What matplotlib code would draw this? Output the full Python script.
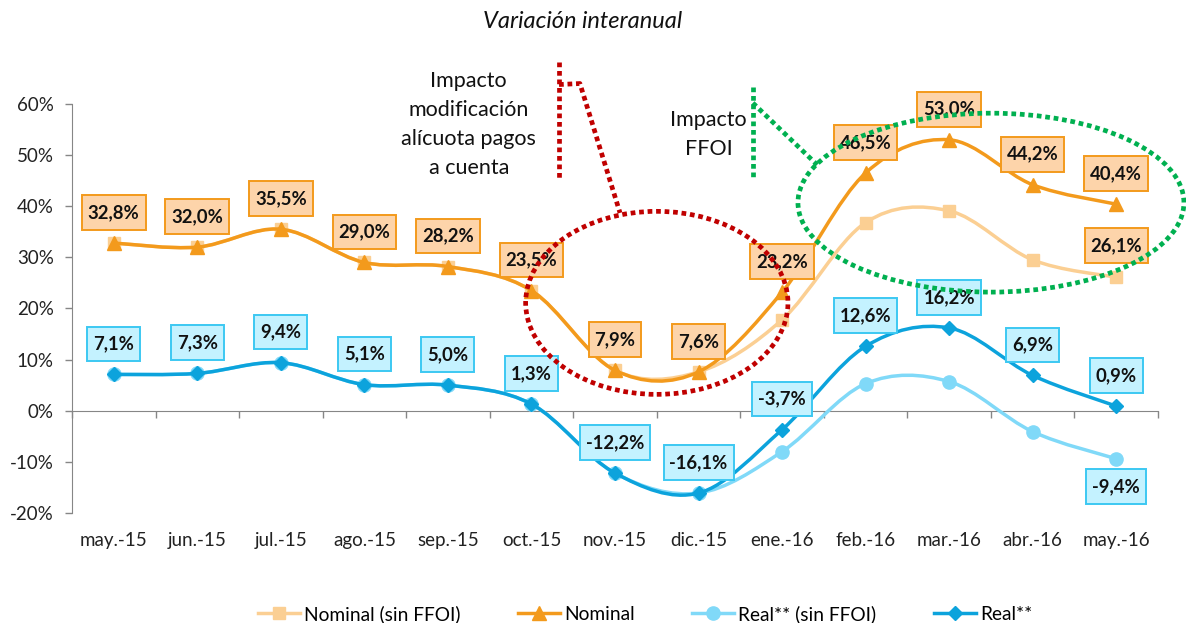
import matplotlib
matplotlib.use("Agg")
import matplotlib.pyplot as plt
import numpy as np
from matplotlib.lines import Line2D
from matplotlib.patches import Ellipse, PathPatch
from matplotlib.path import Path
from matplotlib.ticker import FuncFormatter

plt.rcParams["font.family"] = ["Lato", "DejaVu Sans"]

months = ["may.-15", "jun.-15", "jul.-15", "ago.-15", "sep.-15", "oct.-15", "nov.-15",
          "dic.-15", "ene.-16", "feb.-16", "mar.-16", "abr.-16", "may.-16"]
nominal = [32.8, 32.0, 35.5, 29.0, 28.2, 23.5, 7.9, 7.6, 23.2, 46.5, 53.0, 44.2, 40.4]
nominal_sin = [32.8, 32.0, 35.5, 29.0, 28.2, 23.5, 7.9, 7.6, 17.8, 36.8, 39.1, 29.5, 26.1]
real = [7.1, 7.3, 9.4, 5.1, 5.0, 1.3, -12.2, -16.1, -3.7, 12.6, 16.2, 6.9, 0.9]
real_sin = [7.1, 7.3, 9.4, 5.1, 5.0, 1.3, -12.2, -16.1, -8.0, 5.3, 5.7, -4.1, -9.4]

ORANGE = "#F39A1C"
PEACH = "#FBCF93"
BLUE = "#0CA3DC"
SKY = "#80D9F8"
GRAY = "#868686"


def smooth_path(x, y):
    # Excel style smoothed line: cubic bezier through every point
    p = np.column_stack([x, y])
    pts = [p[0]]
    codes = [Path.MOVETO]
    n = len(p)
    for i in range(n - 1):
        p0 = p[max(i - 1, 0)]
        p3 = p[min(i + 2, n - 1)]
        c1 = p[i] + (p[i + 1] - p0) / 6
        c2 = p[i + 1] - (p3 - p[i]) / 6
        pts += [c1, c2, p[i + 1]]
        codes += [Path.CURVE4] * 3
    return Path(pts, codes)


def label_box(x0, y0, width, height, mutation_size):
    # square box, a bit taller than wide padding (like the Excel labels)
    px, py = 0.32 * mutation_size, 0.48 * mutation_size
    x0, y0 = x0 - px, y0 - py
    x1, y1 = x0 + width + 2 * px, y0 + height + 2 * py
    return Path([(x0, y0), (x1, y0), (x1, y1), (x0, y1), (x0, y0)],
                [Path.MOVETO, Path.LINETO, Path.LINETO, Path.LINETO, Path.CLOSEPOLY])


def pct_label(v):
    return f"{v:.1f}%".replace(".", ",")


fig = plt.figure(figsize=(11.86, 6.23), dpi=100)
ax = fig.add_axes([0.0607, 0.1766, 0.9157, 0.6565])
x = np.arange(len(months))

series = [
    (nominal_sin, PEACH, "s", 9, "Nominal (sin FFOI)", 2),
    (nominal, ORANGE, "^", 10, "Nominal", 3),
    (real_sin, SKY, "o", 9.5, "Real** (sin FFOI)", 2),
    (real, BLUE, "D", 7.5, "Real**", 3),
]
handles = []
for vals, col, mk, ms, name, z in series:
    y = np.array(vals) / 100
    ax.add_patch(PathPatch(smooth_path(x, y), fill=False, ec=col, lw=2.5, zorder=z,
                           capstyle="round", joinstyle="round"))
    ax.plot(x, y, ls="none", marker=mk, ms=ms, color=col, mec=col, zorder=z)
    handles.append(Line2D([], [], color=col, lw=2.5, marker=mk, ms=ms, mec=col, label=name))

ORANGE_BOX = dict(boxstyle=label_box, fc="#FDD4AA", ec="#F39A1C", lw=1.4)
BLUE_BOX = dict(boxstyle=label_box, fc="#C4F2FF", ec="#3CC8F2", lw=1.4)


def put_label(xi, v, dy, box):
    ax.annotate(pct_label(v), (xi, v / 100), xytext=(0, dy), textcoords="offset points",
                ha="center", va="center", fontsize=13.3, fontweight="bold", color="#111111",
                bbox=box, zorder=5)


for i, v in enumerate(nominal):
    put_label(i, v, 22, ORANGE_BOX)
for i, v in enumerate(real):
    put_label(i, v, 22, BLUE_BOX)
put_label(12, nominal_sin[-1], 23, ORANGE_BOX)
put_label(12, real_sin[-1], -20, BLUE_BOX)

# axes styling
ax.set_xlim(-0.5, 12.5)
ax.set_ylim(-0.2, 0.6)
ax.set_yticks(np.arange(-0.2, 0.61, 0.1))
ax.yaxis.set_major_formatter(FuncFormatter(lambda v, _: f"{v * 100:.0f}%"))
ax.set_xticks(x)
ax.set_xticklabels(months)
ax.tick_params(axis="x", length=0, pad=14, labelsize=13.5, colors="#222222")
ax.tick_params(axis="y", length=5, width=1, color=GRAY, pad=8, labelsize=13.5,
               labelcolor="#222222")
for s in ["top", "right", "bottom"]:
    ax.spines[s].set_visible(False)
ax.spines["left"].set_color(GRAY)

zero_axis = ax.secondary_xaxis(0.25)
zero_axis.set_xticks(np.arange(-0.5, 13, 1))
zero_axis.tick_params(axis="x", length=5, width=1, color=GRAY, labelbottom=False)
zero_axis.spines["bottom"].set_color(GRAY)

# callouts
RED = "#C00000"
GREEN = "#00B050"
dot = dict(ls=(0, (1, 0.8)), lw=3.4, dash_capstyle="butt", clip_on=False, zorder=6)

ax.plot([5.33, 5.33], [0.683, 0.452], color=RED, **dot)
ax.plot([5.33, 5.58, 6.06], [0.638, 0.640, 0.387], color=RED, **dot)
ax.add_patch(Ellipse((6.50, 0.211), 3.14, 0.358, fill=False, ec=RED, ls=(0, (1, 0.8)),
                     lw=3.4, clip_on=False, zorder=6))
ax.text(4.25, 0.560, "Impacto\nmodificación\nalícuota pagos\na cuenta", ha="center",
        va="center", fontsize=15.5, linespacing=1.55, color="#111111")

ax.plot([7.65, 7.65], [0.634, 0.458], color=GREEN, **dot)
ax.plot([7.65, 8.42], [0.602, 0.481], color=GREEN, **dot)
ax.add_patch(Ellipse((10.50, 0.407), 4.62, 0.350, fill=False, ec=GREEN, ls=(0, (1, 0.8)),
                     lw=3.4, clip_on=False, zorder=6))
ax.text(7.12, 0.540, "Impacto\nFFOI", ha="center", va="center", fontsize=15.5,
        linespacing=1.55, color="#111111")

fig.text(0.4916, 0.966, "Variación interanual", ha="center", va="center", fontsize=17,
         style="italic", color="#111111")

fig.legend(handles=handles, loc="center", bbox_to_anchor=(0.544, 0.0145), ncol=4,
           frameon=False, fontsize=13.8, handlelength=2.2, handletextpad=0.2,
           columnspacing=3.0)

fig.savefig("out.png", dpi=100)
